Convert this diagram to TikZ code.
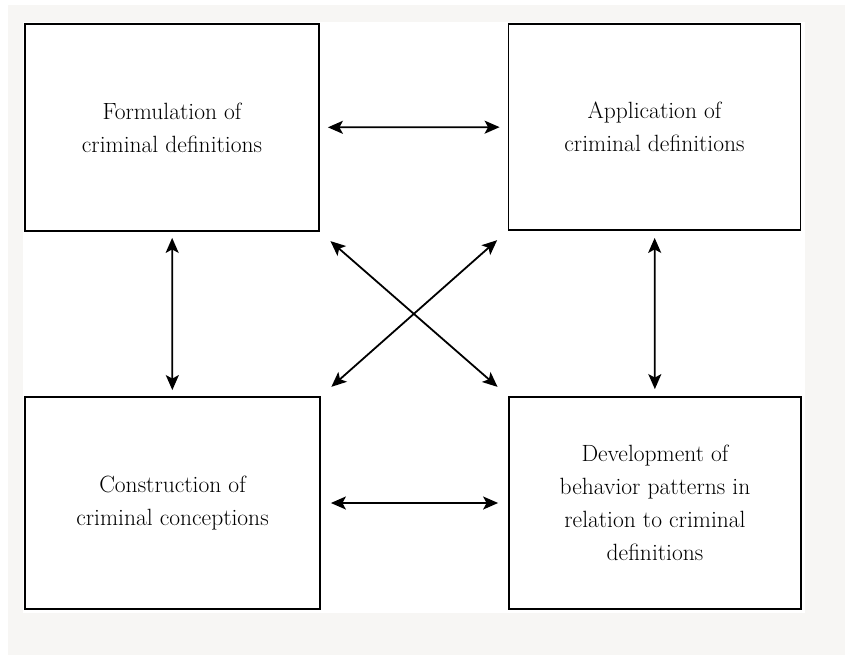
\documentclass[tikz,border=0pt]{standalone}
\usepackage{fontspec}
\usetikzlibrary{arrows.meta}
\definecolor{pagegray}{HTML}{F7F6F4}
\begin{document}
\begin{tikzpicture}[x=1pt,y=-1pt, box/.style={draw,line width=1.8pt,align=center,inner sep=0pt,font=\fontsize{23.5}{33}\selectfont\addfontfeature{LetterSpace=5}}, link/.style={line width=1.8pt,{Stealth[length=15pt,width=13pt,inset=3.5pt]}-{Stealth[length=15pt,width=13pt,inset=3.5pt]}}]
\useasboundingbox (0,0) rectangle (845,655);
\fill[pagegray] (8,5) rectangle (845,655);
\fill[white] (23,22) rectangle (805,613);
\node(form)[box,minimum width=294pt,minimum height=207pt] at (172,127.5) {Formulation of\\criminal definitions};
\node(appl)[box,minimum width=292pt,minimum height=206pt] at (654.5,127) {Application of\\criminal definitions};
\node(cons)[box,minimum width=295pt,minimum height=212pt] at (172.5,503) {Construction of\\criminal conceptions};
\node(devel)[box,minimum width=292pt,minimum height=212pt] at (655,503) {Development of\\behavior patterns in\\relation to criminal\\definitions};
\draw[link,shorten <=8pt,shorten >=8pt] (form) -- (appl);
\draw[link,shorten <=10pt,shorten >=10pt] (cons) -- (devel);
\draw[link,shorten <=6pt,shorten >=6pt] (form) -- (cons);
\draw[link,shorten <=7pt,shorten >=7pt] (appl) -- (devel);
\draw[link,shorten <=14pt,shorten >=14pt] (form.south east) -- (devel.north west);
\draw[link,shorten <=14pt,shorten >=14pt] (appl.south west) -- (cons.north east);
\end{tikzpicture}
\end{document}
